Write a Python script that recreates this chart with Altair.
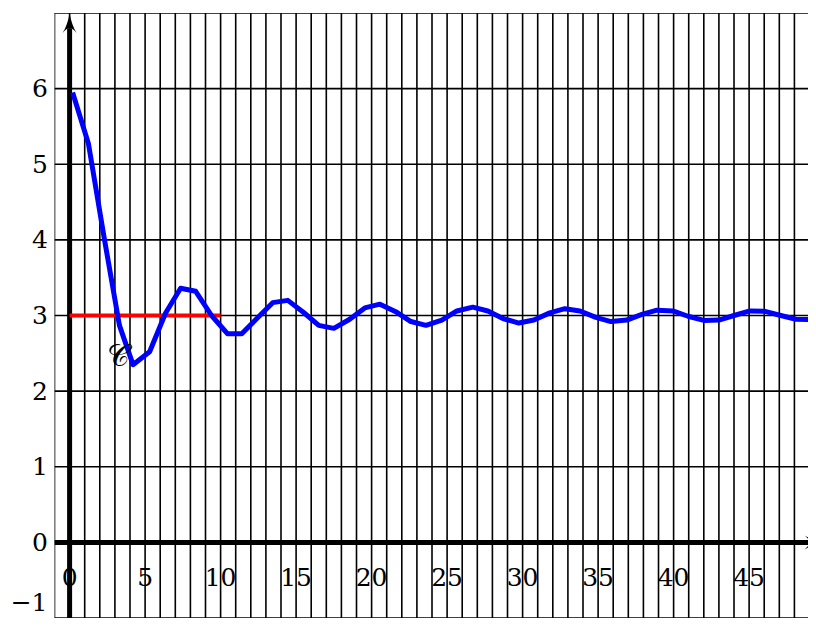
import altair as alt
import pandas as pd

FONT = "DejaVu Serif"

# ---- data ----
curve_x = [0.2, 1.25, 2.27, 3.3, 4.2, 5.3, 6.35, 7.35, 8.35, 9.4,
           10.45, 11.4, 12.45, 13.45, 14.45, 15.5, 16.5, 17.5, 18.55, 19.55,
           20.55, 21.6, 22.6, 23.6, 24.65, 25.65, 26.7, 27.7, 28.7, 29.75,
           30.75, 31.8, 32.8, 33.8, 34.85, 35.85, 36.9, 37.9, 38.9, 39.95,
           40.95, 42.0, 43.0, 44.0, 45.05, 46.05, 47.1, 48.1, 49.1, 50.15]
curve_y = [5.95, 5.27, 4.05, 2.87, 2.35, 2.52, 3.03, 3.36, 3.32, 3.0,
           2.76, 2.76, 2.97, 3.17, 3.2, 3.04, 2.87, 2.83, 2.95, 3.10,
           3.15, 3.05, 2.92, 2.87, 2.94, 3.06, 3.11, 3.06, 2.96, 2.9,
           2.94, 3.035, 3.09, 3.06, 2.975, 2.92, 2.94, 3.015, 3.07, 3.06,
           2.99, 2.935, 2.94, 3.0, 3.06, 3.055, 3.0, 2.95, 2.945, 2.99]

red_x = [0, 10]
red_y = [3, 3]

grid_x = list(range(-1, 50))
grid_y = list(range(-1, 8))
y_tick_vals = [0, 1, 2, 3, 4, 5, 6]
y_bottom_label = "−1"
x_tick_vals = [0, 5, 10, 15, 20, 25, 30, 35, 40, 45]
x_tick_text = ["0", "5", "10", "15", "20", "25", "30", "35", "40", "45"]
x_tick_row = -0.47

curve_label = "𝒞"
curve_label_x = 3.25
curve_label_y = 2.45

arrow_up = {"x": [0], "y": [7]}
arrow_right = {"x": [50], "y": [0]}
yaxis_line = {"x": [0], "y": [-1], "y2": [6.8]}
xaxis_line = {"x": [-1], "x2": [49.6], "y": [0]}

# ---- scales ----
xs = alt.Scale(domain=[-1, 48.9], nice=False, zero=False)
ys = alt.Scale(domain=[-1, 7], nice=False, zero=False)
yaxis = alt.Axis(values=y_tick_vals, title=None, ticks=False, domain=False, grid=False,
                 labelFont=FONT, labelFontSize=25, labelColor="black", labelPadding=7)


def X(f):
    return alt.X(f, type="quantitative", scale=xs, axis=None)


def Y(f):
    return alt.Y(f, type="quantitative", scale=ys, axis=yaxis)


ARROW = "M0,0 Q0.2,1.2 0.7,2 Q0.3,1.5 0,1.5 Q-0.3,1.5 -0.7,2 Q-0.2,1.2 0,0 Z"

labels = alt.Chart(pd.DataFrame({"x": x_tick_vals, "t": x_tick_text,
                                 "y": [x_tick_row] * len(x_tick_vals)})).mark_text(
    font=FONT, fontSize=25, color="black", baseline="middle", align="center"
).encode(x=X("x"), y=Y("y"), text="t:N")

# bottom y label, lifted a little so that it stays inside the page
ylab_bottom = alt.Chart(pd.DataFrame({"t": [y_bottom_label]})).mark_text(
    font=FONT, fontSize=25, color="black", baseline="bottom", align="right"
).encode(x=alt.value(-7), y=alt.value(603), text="t:N")

vgrid = alt.Chart(pd.DataFrame({"x": grid_x})).mark_rule(
    color="black", strokeWidth=1.6, clip=True).encode(x=X("x"))
hgrid = alt.Chart(pd.DataFrame({"y": grid_y})).mark_rule(
    color="black", strokeWidth=1.6, clip=True).encode(y=Y("y"))

yax = alt.Chart(pd.DataFrame(yaxis_line)).mark_rule(color="black", strokeWidth=5).encode(
    x=X("x"), y=Y("y"), y2="y2")
xax = alt.Chart(pd.DataFrame(xaxis_line)).mark_rule(color="black", strokeWidth=5, clip=True).encode(
    x=X("x"), x2="x2", y=Y("y"))

aup = alt.Chart(pd.DataFrame(arrow_up)).mark_point(
    shape=ARROW, size=400, filled=True, color="black", opacity=1, strokeWidth=0
).encode(x=X("x"), y=Y("y"))
aright = alt.Chart(pd.DataFrame(arrow_right)).mark_point(
    shape=ARROW, size=400, filled=True, color="black", opacity=1, strokeWidth=0, angle=90, clip=True
).encode(x=X("x"), y=Y("y"))

red = alt.Chart(pd.DataFrame({"x": red_x, "y": red_y})).mark_line(
    color="#ff0000", strokeWidth=4).encode(x=X("x"), y=Y("y"))

blue = alt.Chart(pd.DataFrame({"x": curve_x, "y": curve_y, "o": list(range(len(curve_x)))})).mark_line(
    color="#0000ff", strokeWidth=5, strokeJoin="round", clip=True).encode(x=X("x"), y=Y("y"), order="o:Q")

clabel = alt.Chart(pd.DataFrame({"x": [curve_label_x], "y": [curve_label_y], "t": [curve_label]})).mark_text(
    font=FONT, fontSize=31, color="black", baseline="middle", align="center"
).encode(x=X("x"), y=Y("y"), text="t:N")

chart = alt.layer(labels, ylab_bottom, vgrid, hgrid, yax, xax, aup, aright, red, blue, clabel).properties(
    width=753.5, height=605,
    autosize=alt.AutoSizeParams(type="none"),
    padding={"left": 46.5, "top": 5, "right": 0, "bottom": 0},
    background="white",
).configure_view(stroke=None)

chart.save("out.html", embed_options={"renderer": "svg", "actions": False})
